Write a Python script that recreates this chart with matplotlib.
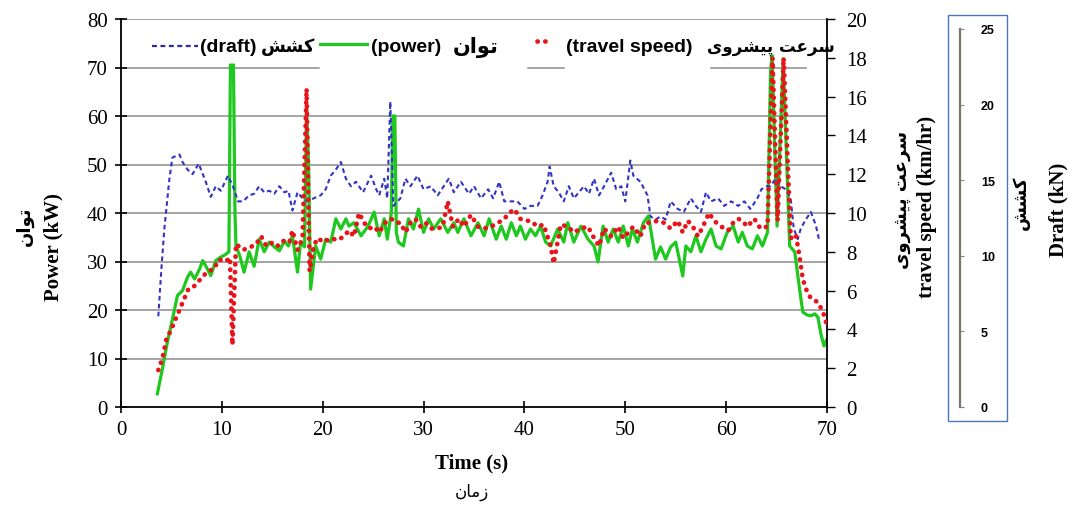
import matplotlib
matplotlib.use("Agg")
import matplotlib.pyplot as plt
from matplotlib.lines import Line2D
from matplotlib.patches import Rectangle

# Persian words written in presentation forms, visual (left-to-right) order
KESHESH = "\uFEB6\uFEB8\uFB90"
TAVAN = "\uFEE5\uFE8D\uFEEE\uFE97"
SORAT = "\uFE96\uFECB\uFEAE\uFEB3"
PISHRAVI = "\uFBFC\uFEED\uFEAE\uFEB8\uFBFF\uFB58"
ZAMAN = "\uFEE5\uFE8E\uFEE3\uFEAF"

# power (kW)
power_t = [3.6, 4.1, 4.6, 5.1, 5.6, 6.1, 6.6, 6.9, 7.3, 7.8, 8.1, 8.4, 8.9, 9.4, 9.9, 10.4,
           10.7, 10.85, 11.15, 11.3, 11.4, 11.8, 12.2, 12.7, 13.2, 13.7, 14.2, 14.7, 15.2, 15.7,
           16.2, 16.6, 17.0, 17.5, 17.8, 18.2, 18.4, 18.6, 18.8, 19.3, 19.8, 20.3, 20.8, 21.3,
           21.8, 22.3, 22.6, 23.1, 23.8, 24.5, 25.1, 25.6, 26.1, 26.4, 26.8, 26.95, 27.15, 27.3,
           27.5, 28.0, 28.5, 29.0, 29.5, 30.0, 30.5, 31.0, 31.7, 32.4, 33.0, 33.4, 34.0, 34.7,
           35.4, 36.0, 36.5, 37.2, 37.7, 38.2, 38.7, 39.2, 39.6, 40.1, 40.6, 41.1, 41.6, 42.1,
           42.6, 43.3, 43.9, 44.3, 44.9, 45.6, 46.3, 46.9, 47.3, 47.8, 48.3, 48.8, 49.3, 49.8,
           50.3, 50.7, 51.2, 51.8, 52.3, 53.0, 53.5, 54.0, 54.5, 55.0, 55.7, 56.0, 56.5, 57.0,
           57.5, 58.0, 58.5, 59.0, 59.5, 60.1, 60.7, 61.2, 61.6, 62.1, 62.6, 63.1, 63.6, 64.1,
           64.4, 64.55, 65.05, 65.65, 66.3, 66.8, 67.3, 67.6, 68.0, 68.4, 68.8, 69.1, 69.4, 69.7,
           70.0]
power_kw = [2.7, 7.8, 13.4, 18.1, 23.0, 24.0, 26.8, 27.8, 26.4, 28.5, 30.2, 29.1, 27.1, 30.2, 30.9, 31.5,
            32.0, 70.5, 70.5, 40.0, 33.2, 31.0, 27.8, 32.0, 29.0, 34.6, 32.0, 34.0, 33.0, 32.2,
            34.2, 33.2, 35.3, 27.8, 34.0, 33.0, 62.0, 50.0, 24.3, 33.2, 30.5, 34.6, 34.0, 38.8,
            36.7, 38.8, 37.3, 38.0, 35.3, 37.3, 40.2, 35.3, 38.8, 34.6, 40.0, 60.0, 60.0, 36.0,
            34.0, 33.2, 38.8, 36.7, 40.8, 36.0, 38.8, 36.7, 38.8, 36.0, 38.0, 36.0, 38.8, 35.3,
            38.0, 35.3, 38.8, 34.6, 37.3, 34.6, 38.0, 35.3, 37.3, 34.6, 36.7, 35.3, 37.3, 34.0,
            33.2, 36.7, 34.0, 38.0, 34.0, 37.3, 34.6, 33.2, 29.9, 37.3, 34.0, 36.7, 34.0, 37.3,
            33.2, 36.7, 34.0, 38.0, 39.4, 30.5, 33.0, 30.5, 33.0, 34.0, 27.0, 33.2, 32.0, 35.3,
            32.0, 34.6, 36.7, 33.2, 32.6, 36.0, 37.3, 34.0, 36.0, 33.2, 32.6, 35.3, 33.2, 36.0,
            69.0, 72.5, 37.3, 71.8, 33.2, 32.0, 24.0, 19.6, 19.0, 18.8, 19.2, 18.5, 15.0, 12.6,
            14.0]

# travel speed (km/hr)
speed_t = [3.7, 4.1, 4.5, 5.0, 5.3, 5.8, 6.2, 6.7, 7.2, 7.9, 8.6, 9.2, 9.7, 10.4, 10.8, 11.05,
           11.4, 12.1, 12.7, 13.4, 13.9, 14.4, 15.1, 15.6, 16.2, 16.7, 17.0, 17.5, 18.0, 18.4,
           18.7, 19.1, 19.5, 20.1, 20.8, 21.5, 22.1, 22.6, 23.1, 23.6, 24.1, 24.6, 25.1, 25.6,
           26.2, 26.8, 27.3, 27.7, 28.2, 28.7, 29.2, 29.7, 30.2, 30.7, 31.4, 31.9, 32.4, 32.9,
           33.5, 34.0, 34.7, 35.4, 36.0, 36.7, 37.4, 38.0, 38.5, 39.0, 39.6, 40.1, 40.6, 41.3,
           41.9, 42.6, 42.9, 43.6, 44.3, 44.9, 45.6, 46.3, 46.8, 47.4, 47.9, 48.6, 49.3, 49.8,
           50.3, 50.8, 51.5, 52.0, 52.5, 53.2, 53.8, 54.5, 55.2, 55.7, 56.2, 56.7, 57.2, 57.7,
           58.3, 58.8, 59.5, 60.2, 60.7, 61.2, 61.6, 62.1, 62.8, 63.4, 64.1, 64.6, 65.1, 65.7,
           66.4, 66.9, 67.2, 67.6, 67.9, 68.4, 69.1, 69.6, 70.0]
speed_kmh = [1.9, 2.5, 3.5, 4.0, 4.4, 5.0, 5.5, 6.1, 6.2, 6.6, 7.0, 7.1, 7.6, 7.5, 7.7, 3.2,
             8.4, 8.1, 8.2, 8.4, 8.8, 8.3, 8.5, 8.3, 8.6, 8.5, 9.1, 8.1, 8.7, 16.4,
             7.0, 8.3, 8.7, 8.5, 8.7, 8.6, 8.8, 9.1, 8.8, 10.0, 9.5, 9.2, 9.3, 9.0,
             9.5, 9.7, 9.5, 9.5, 9.0, 9.5, 9.7, 9.3, 9.5, 9.2, 9.2, 9.3, 10.6, 9.3,
             9.7, 9.3, 9.9, 9.3, 9.2, 9.3, 9.5, 9.7, 10.0, 10.2, 9.7, 9.6, 9.6, 9.3,
             9.4, 8.3, 7.4, 9.4, 9.3, 9.0, 9.2, 9.3, 8.8, 8.3, 9.2, 8.8, 9.3, 8.7,
             9.0, 9.3, 8.8, 9.5, 9.5, 9.6, 9.5, 9.2, 9.6, 9.0, 9.6, 9.3, 8.8, 9.3,
             10.0, 9.6, 9.3, 9.1, 9.5, 9.7, 9.6, 9.3, 9.7, 9.2, 9.3, 18.0, 9.6, 18.0,
             8.7, 8.9, 8.0, 6.6, 6.1, 5.6, 5.4, 4.9, 4.2]

# draft (kN)
draft_t = [3.7, 4.0, 4.3, 4.8, 5.1, 5.8, 6.1, 6.6, 7.1, 7.7, 8.4, 8.9, 9.4, 9.9, 10.6, 11.1,
           11.6, 12.1, 12.7, 13.2, 13.7, 14.2, 14.7, 15.2, 15.7, 16.2, 16.6, 17.0, 17.5, 18.0,
           18.5, 19.1, 19.8, 20.3, 20.8, 21.3, 21.8, 22.3, 22.8, 23.3, 24.0, 24.8, 25.3, 25.6,
           26.1, 26.4, 26.7, 27.0, 27.7, 28.2, 28.7, 29.4, 30.0, 30.7, 31.4, 32.0, 32.5, 33.0,
           33.7, 34.0, 34.5, 35.0, 35.7, 36.4, 36.9, 37.5, 38.0, 38.7, 39.3, 40.0, 40.6, 41.3,
           41.8, 42.3, 42.5, 42.9, 43.4, 43.9, 44.4, 44.9, 45.4, 45.9, 46.4, 46.9, 47.4, 47.9,
           48.6, 49.1, 49.6, 50.0, 50.5, 50.8, 51.5, 52.2, 52.5, 53.0, 53.5, 54.0, 54.5, 55.2,
           55.8, 56.5, 57.0, 57.5, 58.0, 58.5, 59.2, 59.8, 60.5, 61.2, 61.8, 62.4, 63.1, 63.5,
           64.0, 64.4, 64.9, 65.4, 65.9, 66.4, 66.7, 67.1, 67.4, 67.9, 68.4, 68.9, 69.2]
draft_kn = [6.0, 9.1, 11.8, 15.1, 16.5, 16.7, 16.2, 15.7, 15.4, 16.1, 14.9, 13.9, 14.6, 14.3, 15.3, 14.6,
            13.6, 13.6, 14.0, 14.1, 14.6, 14.2, 14.3, 14.1, 14.6, 14.2, 14.3, 13.0, 14.2, 13.8,
            13.6, 13.8, 14.0, 14.4, 15.3, 15.7, 16.2, 15.1, 14.6, 14.9, 14.2, 15.3, 14.4, 14.0,
            15.1, 13.8, 20.2, 13.3, 13.8, 15.1, 14.6, 15.3, 14.4, 14.6, 14.0, 14.6, 15.1, 14.2,
            14.9, 14.6, 14.1, 14.6, 13.8, 14.4, 13.8, 14.9, 13.6, 13.6, 13.6, 13.1, 13.3, 13.3,
            14.0, 14.9, 15.9, 14.6, 14.2, 13.6, 14.6, 13.8, 14.2, 14.6, 14.1, 15.1, 14.0, 14.6,
            15.5, 14.4, 14.6, 13.6, 16.3, 15.3, 14.9, 14.0, 12.6, 12.4, 12.6, 12.4, 13.6, 13.1,
            12.9, 13.8, 13.3, 12.9, 14.2, 13.6, 13.8, 13.3, 13.6, 13.3, 13.6, 13.1, 13.8, 14.4,
            14.6, 14.6, 15.1, 14.6, 14.4, 13.8, 11.8, 11.1, 11.8, 12.4, 12.9, 12.0, 11.1]

power_ticks = [0, 10, 20, 30, 40, 50, 60, 70, 80]
speed_ticks = [0, 2, 4, 6, 8, 10, 12, 14, 16, 18, 20]
draft_ticks = [0, 5, 10, 15, 20, 25]
time_ticks = [0, 10, 20, 30, 40, 50, 60, 70]

W, H = 1068, 506
SERIF = "Liberation Serif"
ARAB = ["DejaVu Sans"]
GREEN = "#1ec81e"
RED = "#e8141b"
BLUE = "#3434c4"

fig = plt.figure(figsize=(W / 100, H / 100), dpi=100)
fig.patch.set_facecolor("white")


def fx(px):
    return px / W


def fy(py):
    return 1 - py / H


# main axes: x 121..827, y 20..408 (pixels)
ax1 = fig.add_axes([fx(121), fy(408), fx(827) - fx(121), fy(20) - fy(408)])
ax1.set_xlim(0, 70)
ax1.set_ylim(0, 80)

grid_kw = dict(color="#8c8c8c", lw=1.1, zorder=0)
for v in [10, 20, 30, 40, 50, 60, 80]:
    ax1.axhline(v, **grid_kw)
# the 70 gridline is mostly hidden behind the legend in the original
for a, b in [(0, 0.281), (0.576, 0.627), (0.835, 0.97)]:
    ax1.axhline(70, a, b, **grid_kw)

ax1.plot(power_t, power_kw, color=GREEN, lw=2.3, zorder=3, solid_joinstyle="round")

for s in ["top", "right"]:
    ax1.spines[s].set_visible(False)
for s in ["left", "bottom"]:
    ax1.spines[s].set_color("black")
    ax1.spines[s].set_linewidth(1.3)
ax1.set_yticks(power_ticks)
ax1.set_xticks(time_ticks)
ax1.tick_params(axis="both", direction="inout", length=9, width=1.2,
                labelsize=15, pad=5)
for lab in ax1.get_xticklabels() + ax1.get_yticklabels():
    lab.set_fontfamily(SERIF)

# draft plotted against its own scale (0 at y=408, 25 at y=30)
axd = ax1.twinx()
axd.set_ylim(0, 25 * 388 / 378)
axd.axis("off")
axd.plot(draft_t, draft_kn, color=BLUE, lw=1.5, dashes=(2.2, 1.6), zorder=2)

# travel speed on the right axis
ax2 = ax1.twinx()
ax2.set_ylim(0, 20)
ax2.set_yticks(speed_ticks)
ax2.plot(speed_t, speed_kmh, color=RED, lw=3.4, linestyle=(0, (0.05, 1.6)),
         dash_capstyle="round", zorder=4)
for s in ["top", "left", "bottom"]:
    ax2.spines[s].set_visible(False)
ax2.spines["right"].set_color("black")
ax2.spines["right"].set_linewidth(1.3)
ax2.tick_params(axis="y", direction="out", length=6, width=1.0, labelsize=15, pad=8)
for lab in ax2.get_yticklabels():
    lab.set_fontfamily(SERIF)

# separate draft axis on the right, inside a blue box
fig.add_artist(Rectangle((fx(948), fy(422)), fx(1007) - fx(948), fy(16) - fy(422),
                         transform=fig.transFigure, fill=False,
                         edgecolor="#4a76c0", lw=1.0))
ax3 = fig.add_axes([fx(950), fy(408), fx(960) - fx(950), fy(30) - fy(408)])
ax3.set_ylim(0, 25)
ax3.set_yticks(draft_ticks)
ax3.patch.set_visible(False)
ax3.set_xticks([])
for s in ["top", "left", "bottom"]:
    ax3.spines[s].set_visible(False)
ax3.spines["right"].set_color("#77776a")
ax3.spines["right"].set_linewidth(1.6)
ax3.yaxis.tick_right()
ax3.tick_params(axis="y", direction="out", length=3, width=0.8, color="#888888",
                labelsize=9, pad=12)
for lab in ax3.get_yticklabels():
    lab.set_fontweight("bold")
    lab.set_fontfamily("Liberation Sans")

# axis titles
fig.text(fx(25), fy(226), TAVAN, rotation=90, ha="center", va="center",
         family=ARAB, fontsize=13, fontweight="bold")
fig.text(fx(53), fy(247), "Power (kW)", rotation=90, ha="center", va="center",
         family=SERIF, fontsize=15, fontweight="bold")
fig.text(fx(472), fy(463), "Time (s)", ha="center", va="center",
         family=SERIF, fontsize=15, fontweight="bold")
fig.text(fx(472), fy(492), ZAMAN, ha="center", va="center",
         family=ARAB, fontsize=12)
fig.text(fx(902), fy(200), PISHRAVI + " " + SORAT, rotation=90, ha="center", va="center",
         family=ARAB, fontsize=13, fontweight="bold")
fig.text(fx(927), fy(207), "travel speed (km/hr)", rotation=90, ha="center", va="center",
         family=SERIF, fontsize=15, fontweight="bold")
fig.text(fx(1021), fy(203), KESHESH, rotation=90, ha="center", va="center",
         family=ARAB, fontsize=13, fontweight="bold")
fig.text(fx(1058), fy(210), "Draft (kN)", rotation=90, ha="center", va="center",
         family=SERIF, fontsize=15, fontweight="bold")

# legend row at the top of the plot
ly = fy(47)
LEG = dict(ha="left", va="center", family="Liberation Sans", fontsize=14, fontweight="bold")
fig.add_artist(Line2D([fx(152), fx(198)], [ly, ly], transform=fig.transFigure,
                      color="#2a2a9a", lw=1.6, dashes=(2.2, 1.6)))
fig.text(fx(200), ly, "(draft)", **LEG)
fig.text(fx(261), ly, KESHESH, ha="left", va="center", family=ARAB,
         fontsize=13, fontweight="bold")
fig.add_artist(Line2D([fx(320), fx(367)], [ly + 0.004, ly + 0.004], transform=fig.transFigure,
                      color=GREEN, lw=2.3))
fig.text(fx(371), ly, "(power)", **LEG)
fig.text(fx(453), ly, TAVAN, ha="left", va="center", family=ARAB,
         fontsize=15, fontweight="bold")
fig.add_artist(Line2D([fx(537), fx(550)], [ly + 0.01, ly + 0.01], transform=fig.transFigure,
                      color=RED, lw=3.4, linestyle=(0, (0.05, 1.6)),
                      dash_capstyle="round"))
fig.text(fx(566), ly, "(travel speed)", **LEG)
fig.text(fx(707), ly, PISHRAVI + " " + SORAT, ha="left", va="center", family=ARAB,
         fontsize=12, fontweight="bold")

fig.savefig("out.png", dpi=100, facecolor="white")
